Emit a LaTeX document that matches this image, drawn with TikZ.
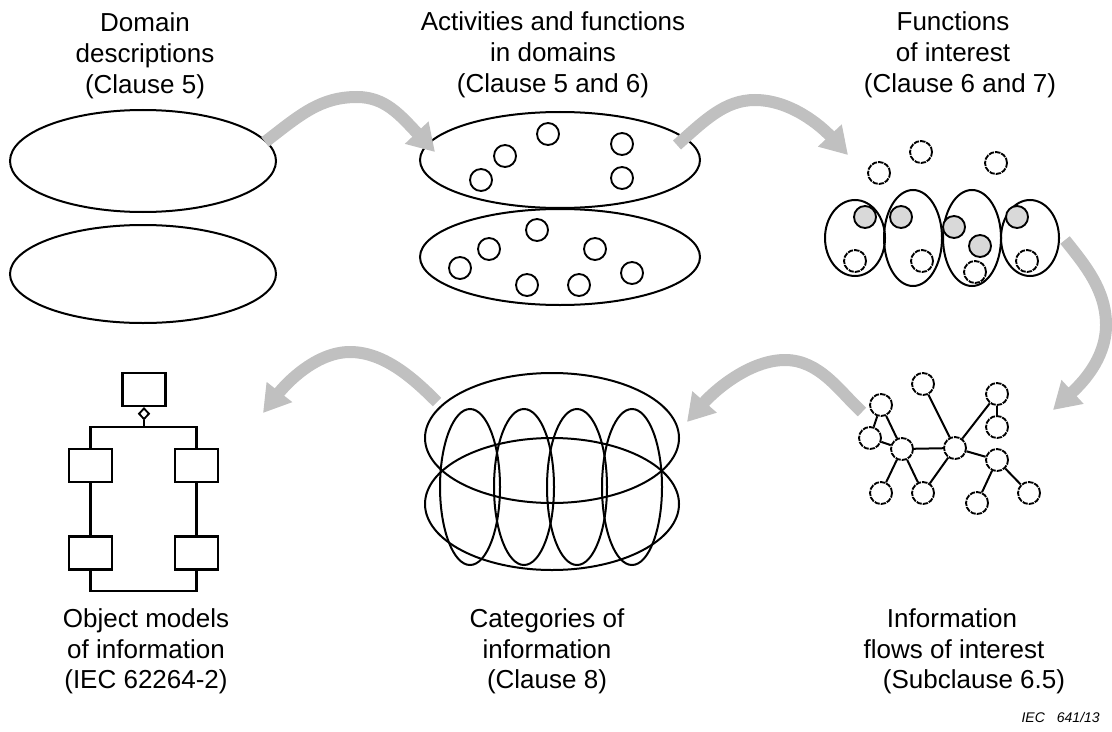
\documentclass[tikz,border=0pt]{standalone}
\usepackage{fontspec}
\setmainfont{Liberation Sans}
\usetikzlibrary{arrows.meta,shapes.geometric}
\definecolor{bandgray}{RGB}{192,192,192}
\definecolor{fillgray}{RGB}{217,217,217}
\begin{document}
\begin{tikzpicture}[x=0.75pt,y=-0.75pt,
  shp/.style={line width=1.5pt},
  dot/.style={circle,draw,line width=1.4pt,inner sep=0pt,minimum size=16.5pt,fill=white},
  ddot/.style={dot,dash pattern=on 4pt off 0.8pt},
  gdot/.style={dot,fill=fillgray},
  band/.style={draw=bandgray,line width=9pt,-{Triangle[length=20pt,width=23pt]}},
  lbl/.style={font=\fontsize{19.5}{23}\selectfont,anchor=base,inner sep=0pt},
  umlbox/.style={draw,line width=1.7pt,minimum width=32.25pt,minimum height=24.75pt,inner sep=0pt},
  edge/.style={line width=1.5pt},
  uml/.style={line width=1.7pt}
]
\fill[white] (0,0) rectangle (1112,731);
\useasboundingbox (0,0) rectangle (1112,731);

% ---------- texts ----------
\node[lbl] (t1a) at (145,32) {Domain};
\node[lbl] (t1b) at (145,63) {descriptions};
\node[lbl] (t1c) at (145,94) {(Clause 5)};
\node[lbl] (t2a) at (553,31) {Activities and functions};
\node[lbl] (t2b) at (553,62) {in domains};
\node[lbl] (t2c) at (553,93) {(Clause 5 and 6)};
\node[lbl] (t3a) at (953,31) {Functions};
\node[lbl] (t3b) at (953,62) {of interest};
\node[lbl] (t3c) at (960,93) {(Clause 6 and 7)};
\node[lbl] (t4a) at (146,627) {Object models};
\node[lbl] (t4b) at (146,658) {of information};
\node[lbl] (t4c) at (146,688) {(IEC 62264-2)};
\node[lbl] (t5a) at (547,627) {Categories of};
\node[lbl] (t5b) at (547,658) {information};
\node[lbl] (t5c) at (547,688) {(Clause 8)};
\node[lbl] (t6a) at (952,627) {Information};
\node[lbl] (t6b) at (954,658) {flows of interest};
\node[lbl] (t6c) at (974,688) {(Subclause 6.5)};
\node[font=\fontsize{10.5}{12}\selectfont\itshape,anchor=base east,inner sep=0pt] (iec) at (1100,722) {IEC\hspace{9pt}641/13};

% ---------- domain descriptions ----------
\draw[shp] (143,161) ellipse [x radius=133,y radius=51];
\draw[shp] (143,274) ellipse [x radius=133,y radius=49];

% ---------- activities ----------
\draw[shp] (560,160) ellipse [x radius=140,y radius=48];
\draw[shp] (560,257) ellipse [x radius=140,y radius=48];
\foreach \p/\n in {(548,134)/a1,(505,156)/a2,(481,180)/a3,(622,144)/a4,(622,178)/a5,
  (537,230)/b1,(489,249)/b2,(460,268)/b3,(595,249)/b4,(527,285)/b5,(579,285)/b6,(632,273)/b7}
  \node[dot] (\n) at \p {};

% ---------- functions of interest ----------
\draw[shp] (855,238) ellipse [x radius=30,y radius=38];
\draw[shp] (913,238) ellipse [x radius=29,y radius=48];
\draw[shp] (972,238) ellipse [x radius=29,y radius=48];
\draw[shp] (1030,238) ellipse [x radius=29,y radius=38];
\foreach \p/\n in {(879,173)/f1,(921,152)/f2,(996,163)/f3,(855,261)/f4,(922,261)/f5,(975,272)/f6,(1027,261)/f7}
  \node[ddot] (\n) at \p {};
\foreach \p/\n in {(865,217)/g1,(901,217)/g2,(954,227)/g3,(980,246)/g4,(1017,217)/g5}
  \node[gdot] (\n) at \p {};

% ---------- information flows ----------
\node[ddot] (A) at (923,384) {};
\node[ddot] (B) at (881,405) {};
\node[ddot] (C) at (870,438) {};
\node[ddot] (D) at (902,449) {};
\node[ddot] (E) at (955,448) {};
\node[ddot] (F) at (997,394) {};
\node[ddot] (G) at (997,427) {};
\node[ddot] (H) at (997,460) {};
\node[ddot] (I) at (881,493) {};
\node[ddot] (J) at (923,493) {};
\node[ddot] (K) at (977,503) {};
\node[ddot] (L) at (1029,493) {};
\foreach \u/\v in {B/C,B/D,C/D,D/E,D/I,D/J,E/A,E/J,E/F,F/G,E/H,H/K,H/L}
  \draw[edge] (\u) -- (\v);

% ---------- categories ----------
\draw[shp] (552,438) ellipse [x radius=127,y radius=65];
\draw[shp] (552,504) ellipse [x radius=127,y radius=66];
\foreach \cx in {470,524,577,632}
  \draw[shp] (\cx,487) ellipse [x radius=30,y radius=78];

% ---------- object model ----------
\node[umlbox] (top) at (144,389.5) {};
\node[diamond,draw,line width=1.4pt,inner sep=0pt,minimum width=8pt,minimum height=8.5pt,anchor=north,fill=white] (dia) at (top.south) {};
\node[umlbox] (L1) at (90.5,465.5) {};
\node[umlbox] (L2) at (90.5,553) {};
\node[umlbox] (R1) at (196.5,465.5) {};
\node[umlbox] (R2) at (196.5,553) {};
\coordinate (jt) at (144,427);
\coordinate (jl) at (90.5,427);
\coordinate (jr) at (196.5,427);
\coordinate (bl) at (90.5,591);
\coordinate (br) at (196.5,591);
\draw[uml] (dia.south) -- (jt);
\draw[uml] (L1.north) -- (jl) -- (jr) -- (R1.north);
\draw[uml] (L1.south) -- (L2.north);
\draw[uml] (R1.south) -- (R2.north);
\draw[uml] (L2.south) -- (bl) -- (br) -- (R2.south);

% ---------- gray arrows ----------
\coordinate (s1) at (265,142); \coordinate (e1) at (435,152);
\coordinate (s2) at (677,145); \coordinate (e2) at (848,155);
\coordinate (s3) at (1065,240); \coordinate (e3) at (1053,410);
\coordinate (s4) at (862,412); \coordinate (e4) at (687,422);
\coordinate (s5) at (437,402); \coordinate (e5) at (263,413);
\draw[band] (s1) .. controls (300,115) and (320,97) .. (357,97) .. controls (385,97) and (400,115) .. (e1);
\draw[band] (s2) .. controls (705,120) and (725,100) .. (755,100) .. controls (790,100) and (820,125) .. (e2);
\draw[band] (s3) .. controls (1085,265) and (1106,290) .. (1106,325) .. controls (1106,360) and (1080,385) .. (e3);
\draw[band] (s4) .. controls (840,392) and (820,360) .. (785,360) .. controls (750,360) and (715,390) .. (e4);
\draw[band] (s5) .. controls (415,380) and (385,352) .. (350,352) .. controls (315,352) and (285,385) .. (e5);
\end{tikzpicture}
\end{document}
